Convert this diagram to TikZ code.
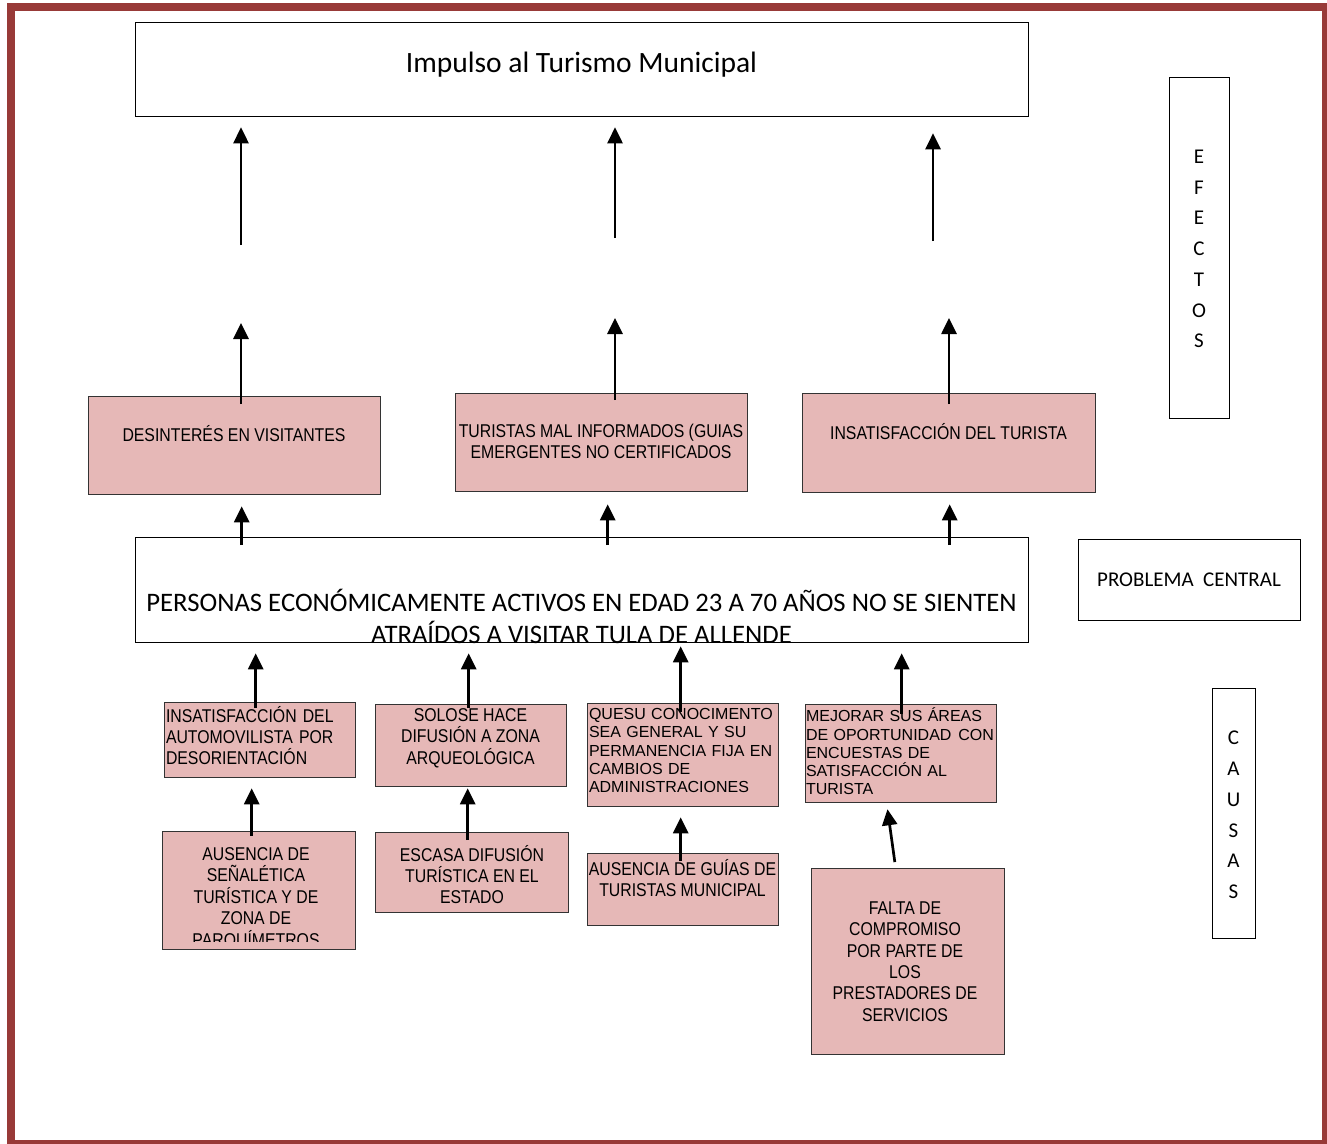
\documentclass[tikz,border=0pt]{standalone}
\usepackage{fontspec}
\usetikzlibrary{arrows.meta,positioning}
\setmainfont{Liberation Sans}
\newfontfamily\calfont{Carlito}
\newfontfamily\narrowfont[FakeStretch=0.855]{Liberation Sans}
\definecolor{marcorojo}{HTML}{983A38}
\definecolor{rosa}{HTML}{E6B8B7}
\tikzset{caja/.style={draw=black!80,line width=1.3pt,fill=rosa,anchor=north west,inner sep=0pt},marco/.style={draw=black,line width=1.3pt,fill=white,anchor=north west,inner sep=0pt},txt/.style={font=\narrowfont\fontsize{18.5}{21.4}\selectfont,align=center,inner sep=1pt},txtl/.style={font=\narrowfont\fontsize{18.5}{21.4}\selectfont,align=left,text width=188pt,inner sep=1pt},txtp/.style={font=\fontsize{16}{18.3}\selectfont,align=left,text width=200pt,inner sep=1pt},cal/.style 2 args={font=\calfont\fontsize{#1}{#2}\selectfont,align=center,inner sep=0pt},arr/.style={-{Triangle[length=16pt,width=15pt]},line width=2.7pt}}

\begin{document}
\begin{tikzpicture}[x=1pt,y=-1pt]
\useasboundingbox (0,0) rectangle (1327,1143);
\draw[marcorojo,line width=8pt] (11,7) rectangle (1326,1144);
% efectos
\node[marco,minimum width=893pt,minimum height=94pt] (top) at (135,22) {};
\node[cal={29.5}{36}] (topt) at (581.5,65) {Impulso al Turismo Municipal};
\node[caja,minimum width=292pt,minimum height=98pt] (e1) at (88,396) {};\node[txt] (e1t) at (234,434) {DESINTERÉS EN VISITANTES};
\node[caja,minimum width=292pt,minimum height=98pt] (e2) at (455,393) {};\node[txt] (e2t) at (601,441.5) {TURISTAS MAL INFORMADOS (GUIAS\\EMERGENTES NO CERTIFICADOS};
\node[caja,minimum width=293pt,minimum height=99pt] (e3) at (802,393) {};\node[txt] (e3t) at (948.5,432) {INSATISFACCIÓN DEL TURISTA};
% problema central
\node[marco,minimum width=893pt,minimum height=105pt] (cen) at (135,537) {};
\node[cal={26.7}{31.5}] (cent) at (581.5,616.5) {PERSONAS ECONÓMICAMENTE ACTIVOS EN EDAD 23 A 70 AÑOS NO SE SIENTEN\\ATRAÍDOS A VISITAR TULA DE ALLENDE};
% rotulos
\node[marco,minimum width=222pt,minimum height=81pt] (pc) at (1078,539) {};\node[cal={21}{25}] (pct) at (1189,580) {PROBLEMA\ \ CENTRAL};
\node[marco,minimum width=60pt,minimum height=341pt] (efe) at (1169,77) {};\node[cal={21}{30.7}] (efet) at (1199,249) {E\\F\\E\\C\\T\\O\\S};
\node[marco,minimum width=43pt,minimum height=250pt] (cau) at (1212,688) {};\node[cal={21}{30.8}] (caut) at (1233.5,815) {C\\A\\U\\S\\A\\S};
% causas
\node[caja,minimum width=191pt,minimum height=75pt] (c1) at (164,702) {};\node[txtl] (c1t) at (260,735.5) {INSATISFACCIÓN DEL\\AUTOMOVILISTA POR\\DESORIENTACIÓN};
\node[caja,minimum width=191pt,minimum height=82pt] (c2) at (375,704) {};\node[txt] (c2t) at (470.5,738) {SOLOSE HACE\\DIFUSIÓN A ZONA\\ARQUEOLÓGICA};
\node[caja,minimum width=191pt,minimum height=103pt] (c3) at (587,703) {};\node[txtp] (c3t) at (689,750.5) {QUESU CONOCIMENTO\\SEA GENERAL Y SU\\PERMANENCIA FIJA EN\\CAMBIOS DE\\ADMINISTRACIONES};
\node[caja,minimum width=191pt,minimum height=98pt] (c4) at (805,704) {};\node[txtp] (c4t) at (906,751.5) {MEJORAR SUS ÁREAS\\DE OPORTUNIDAD\hspace{1.5pt} CON\\ENCUESTAS DE\\SATISFACCIÓN AL\\TURISTA};
\node[caja,minimum width=193pt,minimum height=118pt] (d1) at (162,831) {};
\begin{scope}\clip (d1.north west) rectangle ([yshift=9pt]d1.south east);\node[txt] (d1t) at (256,898.5) {AUSENCIA DE\\SEÑALÉTICA\\TURÍSTICA Y DE\\ZONA DE\\PARQUÍMETROS};\end{scope}
\node[caja,minimum width=193pt,minimum height=80pt] (d2) at (375,832) {};\node[txt] (d2t) at (472,874.5) {ESCASA DIFUSIÓN\\TURÍSTICA EN EL\\ESTADO};
\node[caja,minimum width=191pt,minimum height=72pt] (d3) at (587,853) {};\node[txt] (d3t) at (682.5,878) {AUSENCIA DE GUÍAS DE\\TURISTAS MUNICIPAL};
\node[caja,minimum width=193pt,minimum height=186pt] (d4) at (811,868) {};\node[txt] (d4t) at (905,961.5) {FALTA DE\\COMPROMISO\\POR PARTE DE\\LOS\\PRESTADORES DE\\SERVICIOS};
% flechas
\coordinate (f1) at (241,245);\coordinate (f2) at (615,238);\coordinate (f3) at (933,241);
\foreach \f/\g in {f1/10,f2/10,f3/16}\draw[arr,shorten >=\g pt] (\f) -- (\f |- top.south);
\coordinate (g1) at (241,323);\coordinate (g2) at (615,318);\coordinate (g3) at (949,318);
\draw[arr,shorten <=-8pt] (g1 |- e1.north) -- (g1);\draw[arr,shorten <=-7pt] (g2 |- e2.north) -- (g2);\draw[arr,shorten <=-11pt] (g3 |- e3.north) -- (g3);
\draw[arr,shorten <=-8pt,shorten >=11pt] ([xshift=7pt]e1.south |- cen.north) -- ([xshift=7pt]e1.south);
\draw[arr,shorten <=-8pt,shorten >=12pt] ([xshift=6pt]e2.south |- cen.north) -- ([xshift=6pt]e2.south);
\draw[arr,shorten <=-8pt,shorten >=11pt] ([xshift=0.5pt]e3.south |- cen.north) -- ([xshift=0.5pt]e3.south);
\draw[arr,shorten <=-6pt,shorten >=10pt] ([xshift=-4.5pt]c1.north) -- ([xshift=-4.5pt]c1.north |- cen.south);
\draw[arr,shorten <=-4pt,shorten >=10pt] ([xshift=-2.5pt]c2.north) -- ([xshift=-2.5pt]c2.north |- cen.south);
\draw[arr,shorten <=-9pt,shorten >=3pt] ([xshift=-2.5pt]c3.north) -- ([xshift=-2.5pt]c3.north |- cen.south);
\draw[arr,shorten <=-10pt,shorten >=10pt] ([xshift=0.5pt]c4.north) -- ([xshift=0.5pt]c4.north |- cen.south);
\draw[arr,shorten <=-5pt,shorten >=10pt] ([xshift=-7.5pt]d1.north) -- ([xshift=-7.5pt]d1.north |- c1.south);
\draw[arr,shorten <=-8pt,shorten >=1pt] ([xshift=-4.5pt]d2.north) -- ([xshift=-4.5pt]d2.north |- c2.south);
\draw[arr,shorten <=-8pt,shorten >=10pt] ([xshift=-2.5pt]d3.north) -- ([xshift=-2.5pt]d3.north |- c3.south);
\draw[arr,shorten <=6pt,shorten >=6pt] ([xshift=-12.5pt]d4.north) -- ([xshift=-14.5pt]c4.south);
\end{tikzpicture}
\end{document}
